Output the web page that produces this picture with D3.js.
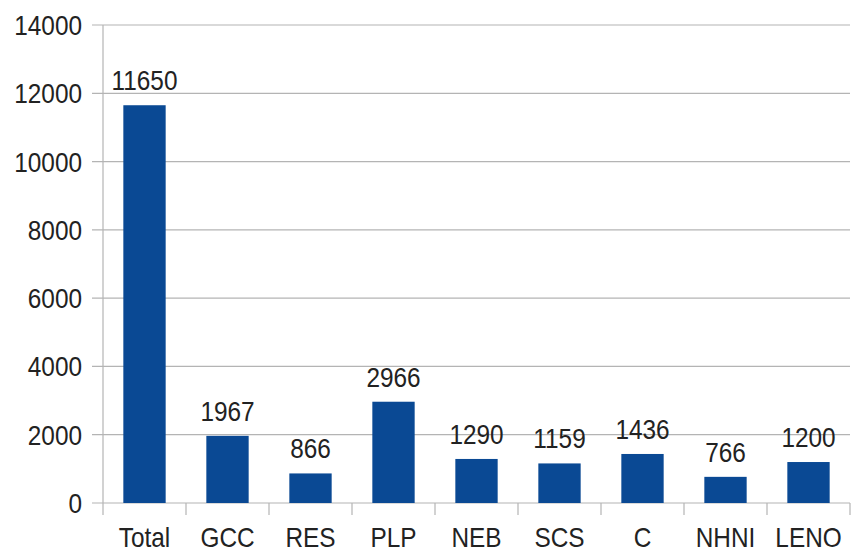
<!DOCTYPE html>
<html>
<head>
<meta charset="utf-8">
<script src="https://cdn.jsdelivr.net/npm/d3@7"></script>
<style>
  body { margin: 0; background: #fff; }
  text { font-family: "Liberation Sans", Arial, sans-serif; fill: #222; }
</style>
</head>
<body>
<div id="chart"></div>
<script>
'use strict';

var categories = ["Total", "GCC", "RES", "PLP", "NEB", "SCS", "C", "NHNI", "LENO"];
var values = [11650, 1967, 866, 2966, 1290, 1159, 1436, 766, 1200];
var yTicks = [0, 2000, 4000, 6000, 8000, 10000, 12000, 14000];

var chartWidth = 854, chartHeight = 555;
var plotLeft = 103, plotRight = 850, plotTop = 25, plotBottom = 503;
var fontSize = 28, squeeze = 0.87;

var svg = d3.select("#chart")
    .append("svg")
    .attr("width", chartWidth)
    .attr("height", chartHeight);

var x = d3.scaleBand()
    .domain(categories)
    .range([plotLeft, plotRight])
    .paddingInner(0.49)
    .paddingOuter(0.245);

var y = d3.scaleLinear()
    .domain([0, 14000])
    .range([plotBottom, plotTop]);

// horizontal gridlines
svg.selectAll("line.grid")
    .data(yTicks)
    .enter()
    .append("line")
    .attr("class", "grid")
    .attr("x1", plotLeft - 11)
    .attr("x2", plotRight)
    .attr("y1", function (d) { return y(d); })
    .attr("y2", function (d) { return y(d); })
    .style("stroke", "#b4b4b4")
    .style("stroke-width", 1.2);

// y axis line
svg.append("line")
    .attr("x1", plotLeft).attr("x2", plotLeft)
    .attr("y1", plotTop).attr("y2", plotBottom)
    .style("stroke", "#b4b4b4")
    .style("stroke-width", 1.2);

// x tick marks between categories
var bandEdge = function (i) {
    return plotLeft + i * (plotRight - plotLeft) / categories.length;
};
svg.selectAll("line.xtick")
    .data(d3.range(categories.length + 1))
    .enter()
    .append("line")
    .attr("class", "xtick")
    .attr("x1", bandEdge)
    .attr("x2", bandEdge)
    .attr("y1", plotBottom)
    .attr("y2", plotBottom + 12)
    .style("stroke", "#b4b4b4")
    .style("stroke-width", 1.2);

// y tick labels
svg.selectAll("text.ylab")
    .data(yTicks)
    .enter()
    .append("text")
    .attr("class", "ylab")
    .attr("transform", function (d) { return "translate(82," + (y(d) + 10) + ") scale(" + squeeze + ",1)"; })
    .style("font-size", fontSize + "px")
    .style("text-anchor", "end")
    .text(function (d) { return d; });

// bars
svg.selectAll("rect.bar")
    .data(values)
    .enter()
    .append("rect")
    .attr("class", "bar")
    .attr("x", function (d, i) { return x(categories[i]); })
    .attr("y", function (d) { return y(d); })
    .attr("width", x.bandwidth())
    .attr("height", function (d) { return plotBottom - y(d); })
    .style("fill", "#0a4994");

// value labels
svg.selectAll("text.vlab")
    .data(values)
    .enter()
    .append("text")
    .attr("class", "vlab")
    .attr("transform", function (d, i) {
        return "translate(" + (x(categories[i]) + x.bandwidth() / 2) + "," + (y(d) - 15) + ") scale(" + squeeze + ",1)";
    })
    .style("font-size", fontSize + "px")
    .style("text-anchor", "middle")
    .text(function (d) { return d; });

// category labels
svg.selectAll("text.xlab")
    .data(categories)
    .enter()
    .append("text")
    .attr("class", "xlab")
    .attr("transform", function (d) {
        return "translate(" + (x(d) + x.bandwidth() / 2) + ",547) scale(" + squeeze + ",1)";
    })
    .style("font-size", fontSize + "px")
    .style("text-anchor", "middle")
    .text(function (d) { return d; });
</script>
</body>
</html>
